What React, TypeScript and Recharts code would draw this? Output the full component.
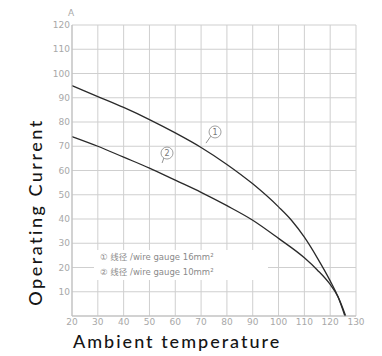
import { LineChart, Line, XAxis, YAxis, CartesianGrid, ReferenceDot, ReferenceLine } from "recharts"

// curve ① wire gauge 16mm²
const temps16 = [20, 30, 40, 50, 60, 70, 80, 90, 100, 105, 110, 115, 120, 123, 125.7]
const amps16 = [95, 90.5, 86, 81, 75.5, 69.5, 62.5, 54.5, 45, 39.5, 32.5, 24, 14.5, 8, 0]
// curve ② wire gauge 10mm²
const temps10 = [20, 30, 40, 50, 60, 70, 80, 90, 100, 110, 115, 120, 123, 126]
const amps10 = [74, 70, 65.5, 61, 56, 51, 45.5, 39.5, 32, 24, 19, 13, 8, 0]

const xTicks = [20, 30, 40, 50, 60, 70, 80, 90, 100, 110, 120, 130]
const yTicks = [0, 10, 20, 30, 40, 50, 60, 70, 80, 90, 100, 110, 120]
const legendLines = ["① 线径 /wire gauge 16mm²", "② 线径 /wire gauge 10mm²"]

const data16 = temps16.map((t, i) => ({ t, a: amps16[i] }))
const data10 = temps10.map((t, i) => ({ t, a: amps10[i] }))

const tickStyle = { fill: "#a8a8a8", fontSize: 9, fontFamily: "DejaVu Sans" }
const titleFont = "Lato, 'Open Sans', sans-serif"

function CircleLabel({ viewBox, value }: any) {
  if (!viewBox) return null
  const cx = viewBox.cx ?? viewBox.x + viewBox.width / 2
  const cy = viewBox.cy ?? viewBox.y + viewBox.height / 2
  return (
    <text x={cx} y={cy} dy="0.35em" textAnchor="middle" fontSize={8} fill="#777" fontFamily="DejaVu Sans">
      {value}
    </text>
  )
}

export default function App() {
  return (
    <div style={{ position: "absolute", left: 0, top: 0, width: 382, height: 356, background: "#fff" }}>
      <LineChart width={382} height={356} margin={{ top: 25, right: 26, bottom: 0, left: 0 }}>
        <CartesianGrid stroke="#cfcfcf" strokeWidth={1} />
        <XAxis
          dataKey="t"
          type="number"
          domain={[20, 130]}
          ticks={xTicks}
          tick={tickStyle}
          tickLine={false}
          tickSize={0}
          tickMargin={3}
          axisLine={{ stroke: "#bdbdbd" }}
          height={40}
          interval={0}
          allowDuplicatedCategory={false}
        />
        <YAxis
          type="number"
          domain={[0, 120]}
          ticks={yTicks}
          tick={tickStyle}
          tickFormatter={(v: number) => (v === 0 ? "" : String(v))}
          tickLine={false}
          tickSize={0}
          tickMargin={2}
          axisLine={{ stroke: "#bdbdbd" }}
          width={72}
          interval={0}
        />
        <ReferenceLine segment={[{ x: 73.8, y: 74.2 }, { x: 71.9, y: 71.3 }]} stroke="#777" strokeWidth={0.8} />
        <ReferenceLine segment={[{ x: 55.6, y: 65.2 }, { x: 54.9, y: 63.1 }]} stroke="#777" strokeWidth={0.8} />
        <Line data={data16} dataKey="a" type="monotone" stroke="#2a2a2a" strokeWidth={1.3} dot={false} isAnimationActive={false} />
        <Line data={data10} dataKey="a" type="monotone" stroke="#2a2a2a" strokeWidth={1.3} dot={false} isAnimationActive={false} />
        <ReferenceDot x={75.4} y={75.9} r={6} fill="#fff" stroke="#888" strokeWidth={0.8} label={<CircleLabel value="1" />} />
        <ReferenceDot x={56.8} y={67.2} r={6} fill="#fff" stroke="#888" strokeWidth={0.8} label={<CircleLabel value="2" />} />
      </LineChart>

      <div style={{ position: "absolute", left: 68, top: 8, fontSize: 9, color: "#a8a8a8", fontFamily: "DejaVu Sans" }}>A</div>

      <div
        style={{
          position: "absolute",
          left: 94,
          top: 250,
          width: 168,
          background: "#fff",
          fontSize: 8.5,
          lineHeight: "15px",
          color: "#8a8a8a",
          fontFamily: "'DejaVu Sans', 'Noto Sans CJK SC'",
          paddingLeft: 6,
          whiteSpace: "nowrap",
        }}
      >
        {legendLines.map((l) => (
          <div key={l}>{l}</div>
        ))}
      </div>

      <div
        style={{
          position: "absolute",
          left: 73,
          top: 330,
          fontSize: 18,
          letterSpacing: 2,
          color: "#151515",
          fontFamily: titleFont,
          fontWeight: 500,
          whiteSpace: "nowrap",
        }}
      >
        Ambient temperature
      </div>
      <div
        style={{
          position: "absolute",
          left: 35,
          top: 212,
          transform: "translate(-50%, -50%) rotate(-90deg)",
          fontSize: 18,
          letterSpacing: 2.5,
          color: "#151515",
          fontFamily: titleFont,
          fontWeight: 500,
          whiteSpace: "nowrap",
        }}
      >
        Operating Current
      </div>
    </div>
  )
}
